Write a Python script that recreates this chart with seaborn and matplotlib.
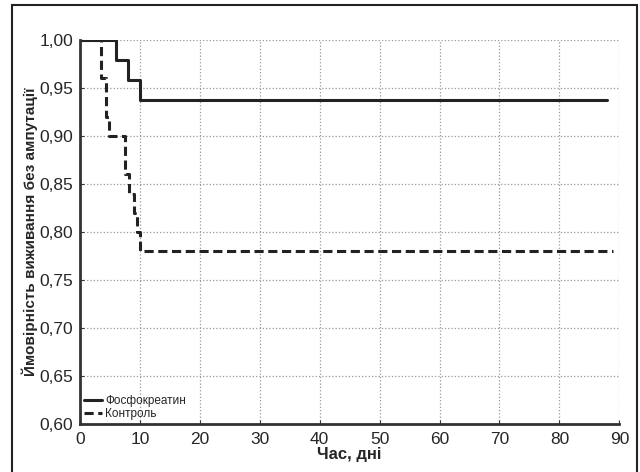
import pandas as pd
import matplotlib.pyplot as plt
import matplotlib.patches as mpatches
import seaborn as sns
from matplotlib.ticker import FuncFormatter

# ====== DATA ======
GROUPS = ["Фосфокреатин", "Контроль"]
TIME_PC = [0, 6, 8, 10, 88]
SURV_PC = [1.0, 0.979, 0.958, 0.9375, 0.9375]
TIME_CTRL = [0, 3.5, 4.3, 4.8, 7.5, 8.2, 9.0, 9.5, 10, 89]
SURV_CTRL = [1.0, 0.96, 0.92, 0.90, 0.86, 0.84, 0.82, 0.80, 0.78, 0.78]
X_TICKS = list(range(0, 91, 10))
Y_TICKS = [0.60, 0.65, 0.70, 0.75, 0.80, 0.85, 0.90, 0.95, 1.00]
# ==================

df = pd.concat([
    pd.DataFrame({"t": TIME_PC, "s": SURV_PC, "group": GROUPS[0]}),
    pd.DataFrame({"t": TIME_CTRL, "s": SURV_CTRL, "group": GROUPS[1]}),
])

sns.set_style("white")
plt.rcParams["font.family"] = ["Liberation Sans", "DejaVu Sans"]

fig = plt.figure(figsize=(6.4, 4.72), dpi=100)
ax = fig.add_axes([0.125, 0.1017, 0.8427, 0.8136])

sns.lineplot(data=df, x="t", y="s", style="group", color="#222222",
             dashes=["", (3, 1.5)], drawstyle="steps-post", estimator=None,
             sort=False, linewidth=2.2, ax=ax, legend=True)

ax.set_xlim(0, 90)
ax.set_ylim(0.60, 1.00)
ax.set_xticks(X_TICKS)
ax.set_yticks(Y_TICKS)
ax.yaxis.set_major_formatter(FuncFormatter(lambda v, p: f"{v:.2f}".replace(".", ",")))
ax.grid(True, linestyle=":", color="#999999", linewidth=0.9)
ax.tick_params(axis="both", labelsize=12.5, direction="in", length=3,
               color="#333333", bottom=True, left=True)
ax.tick_params(axis="y", pad=5)
ax.tick_params(axis="x", pad=6)

for side in ["top", "right"]:
    ax.spines[side].set_visible(False)
for side in ["left", "bottom"]:
    ax.spines[side].set_color("#333333")
    ax.spines[side].set_linewidth(2)

ax.set_xlabel("Час, дні", fontsize=12, fontweight="bold", labelpad=0)
ax.set_ylabel("Ймовірність виживання без ампутації", fontsize=11,
              fontweight="bold", labelpad=1)

leg = ax.legend(loc="lower left", frameon=False, fontsize=8.5, handlelength=1.5,
                handletextpad=0.3, labelspacing=0.05, borderaxespad=0.15,
                borderpad=0.2, title=None)

fig.patches.append(mpatches.Rectangle((0.019, -0.05), 0.977, 1.04,
                                      transform=fig.transFigure, fill=False,
                                      edgecolor="#222222", linewidth=1.5))

plt.savefig("out.png", dpi=100)
plt.close()
